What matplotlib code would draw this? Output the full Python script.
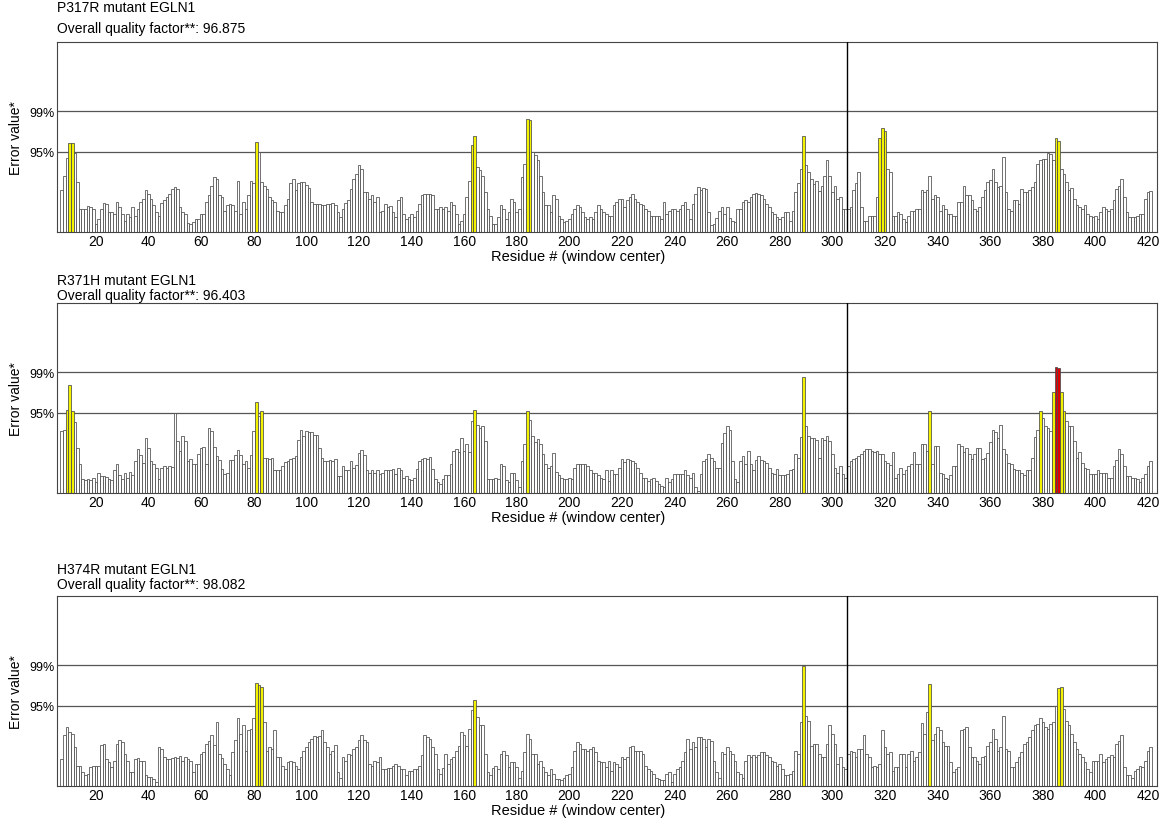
import numpy as np
import matplotlib
matplotlib.use("Agg")
import matplotlib.pyplot as plt

plt.rcParams["font.family"] = ["Liberation Sans", "DejaVu Sans"]

# ERRAT error values per window centre, residues 7..421
first_residue = 7

p317r_errors = [
    5.9, 8.0, 10.5, 12.6,
    12.6, 11.2, 7.1, 3.3, 3.3, 3.3, 3.7, 3.5, 3.3, 1.1,
    1.9, 3.3, 4.1, 4.0, 2.9, 2.8, 2.6, 4.2, 3.5, 2.6,
    1.6, 2.6, 2.1, 3.5, 2.3, 3.3, 4.2, 4.7, 5.9, 5.4,
    4.7, 3.8, 2.8, 2.3, 4.1, 4.5, 5.0, 5.4, 6.1, 6.4,
    6.1, 3.5, 2.8, 2.6, 1.3, 1.1, 1.4, 1.9, 1.8, 2.6,
    2.6, 4.2, 5.2, 6.6, 7.8, 7.6, 5.2, 5.0, 3.0, 3.9,
    4.0, 3.9, 3.0, 7.3, 2.6, 4.2, 3.3, 5.2, 7.3, 6.9,
    12.8, 11.3, 7.1, 6.5, 6.1, 5.0, 4.5, 4.2, 3.0, 2.8,
    2.8, 3.8, 4.7, 6.9, 7.5, 5.9, 6.9, 7.1, 7.1, 6.7,
    6.2, 4.2, 4.0, 4.0, 4.0, 3.8, 3.9, 4.0, 4.0, 4.1,
    3.8, 2.8, 2.1, 3.3, 4.1, 4.5, 6.1, 7.6, 8.2, 9.5,
    9.0, 5.7, 5.7, 4.7, 5.2, 4.2, 5.0, 2.8, 3.0, 4.0,
    3.5, 3.7, 2.8, 2.1, 4.5, 5.0, 2.6, 1.8, 2.1, 2.6,
    2.1, 3.0, 4.0, 5.2, 5.4, 5.4, 5.4, 5.2, 3.3, 3.3,
    3.5, 3.3, 3.5, 3.0, 4.2, 3.8, 2.6, 1.1, 1.6, 2.5,
    5.0, 7.3, 12.3, 13.7, 9.2, 8.8, 8.0, 5.7, 3.3, 2.3,
    1.1, 1.1, 2.1, 3.8, 3.3, 1.9, 2.8, 4.7, 4.2, 2.8,
    3.3, 7.8, 9.7, 16.0, 15.9, 11.3, 11.0, 10.2, 8.0, 5.7,
    3.8, 3.8, 2.8, 5.2, 4.7, 2.3, 1.9, 1.4, 1.6, 1.9,
    2.6, 3.3, 3.8, 3.5, 2.8, 2.1, 1.9, 2.1, 1.9, 2.8,
    3.8, 3.3, 2.8, 2.6, 2.3, 2.3, 3.8, 4.2, 4.7, 4.7,
    3.5, 4.5, 5.0, 5.4, 4.7, 4.2, 4.0, 3.8, 3.3, 3.0,
    2.3, 2.3, 2.3, 2.3, 1.9, 4.2, 2.5, 3.0, 3.3, 3.2,
    3.0, 3.2, 3.8, 4.2, 3.3, 1.8, 4.0, 5.4, 6.4, 6.0,
    6.2, 6.1, 2.8, 1.0, 1.1, 2.0, 3.0, 3.5, 2.5, 3.5,
    2.0, 1.5, 1.4, 3.3, 3.2, 4.2, 4.5, 4.2, 5.0, 5.4,
    5.6, 5.4, 5.2, 4.7, 4.0, 3.5, 2.8, 2.6, 2.1, 1.8,
    2.1, 2.8, 2.8, 1.5, 3.0, 5.7, 7.0, 9.0, 13.6, 9.5,
    8.5, 7.5, 6.8, 7.2, 5.8, 6.5, 8.0, 10.2, 8.0, 5.7,
    6.5, 4.7, 5.0, 3.2, 3.3, 3.2, 3.5, 6.0, 7.0, 8.5,
    3.5, 1.6, 1.6, 2.3, 2.3, 2.3, 5.0, 13.3, 14.8, 14.3,
    9.0, 8.5, 2.3, 2.3, 2.8, 2.6, 1.8, 1.4, 2.3, 3.0,
    3.0, 3.3, 3.3, 5.9, 5.7, 5.9, 7.9, 4.7, 5.2, 5.0,
    3.0, 3.8, 3.3, 2.6, 2.6, 2.3, 2.3, 4.2, 4.2, 6.6,
    5.2, 5.2, 4.5, 3.3, 3.0, 3.5, 5.0, 5.9, 7.1, 7.4,
    9.0, 7.1, 6.4, 6.6, 10.7, 5.7, 3.2, 3.0, 4.5, 4.5,
    4.0, 6.1, 5.7, 5.7, 5.9, 6.4, 7.1, 9.7, 10.2, 10.4,
    10.4, 11.2, 11.1, 10.2, 13.3, 13.0, 9.0, 8.3, 7.1, 5.9,
    6.2, 4.7, 3.8, 3.5, 3.3, 3.8, 2.6, 2.3, 2.1, 2.3,
    1.8, 2.8, 3.5, 3.3, 3.0, 3.3, 4.5, 6.1, 6.5, 7.6,
    5.0, 2.8, 2.1, 2.1, 2.1, 2.3, 2.6, 2.6, 4.7, 5.7,
    5.8,
]

r371h_errors = [
    8.8, 9.0, 11.8, 15.3,
    11.6, 10.1, 6.4, 4.1, 2.0, 1.9, 2.0, 1.8, 2.2, 1.6,
    2.9, 2.4, 2.4, 2.3, 2.0, 1.8, 3.2, 4.1, 2.5, 2.0,
    2.9, 2.2, 3.0, 2.6, 4.6, 6.2, 5.4, 4.3, 7.8, 6.4,
    4.6, 4.1, 3.6, 2.0, 3.6, 3.8, 3.6, 3.8, 3.7, 11.3,
    7.4, 6.0, 8.1, 7.4, 4.6, 4.8, 4.1, 4.1, 5.5, 6.4,
    6.6, 4.1, 9.2, 8.8, 6.6, 5.2, 4.7, 3.4, 2.7, 2.9,
    4.7, 4.7, 5.4, 6.1, 5.4, 4.1, 4.6, 3.6, 5.4, 8.8,
    13.0, 10.9, 11.7, 5.0, 5.0, 4.8, 5.0, 3.2, 3.2, 3.2,
    3.9, 4.4, 4.6, 4.8, 5.0, 5.2, 7.6, 9.0, 8.1, 8.8,
    8.6, 8.6, 8.3, 8.3, 6.4, 5.0, 4.5, 4.5, 4.7, 4.6,
    4.8, 2.4, 2.4, 3.8, 3.2, 3.3, 4.6, 3.6, 4.0, 5.7,
    6.1, 5.4, 3.2, 2.9, 3.2, 2.9, 3.2, 2.7, 2.9, 3.2,
    3.2, 3.2, 3.4, 2.7, 3.6, 3.2, 2.2, 2.4, 2.0, 1.8,
    2.2, 3.4, 4.6, 4.8, 5.0, 4.8, 5.1, 3.4, 2.0, 1.5,
    1.3, 2.0, 2.5, 2.5, 4.1, 6.0, 6.2, 5.8, 7.8, 6.0,
    6.9, 5.8, 10.2, 11.8, 9.7, 9.2, 9.5, 7.4, 2.0, 2.0,
    2.0, 2.2, 2.0, 4.1, 3.8, 1.8, 1.5, 2.9, 2.9, 1.8,
    0.8, 4.5, 7.0, 11.7, 10.4, 8.1, 7.2, 7.7, 7.0, 5.5,
    4.1, 3.6, 3.8, 5.7, 3.0, 2.5, 2.2, 2.0, 2.0, 2.2,
    2.0, 3.6, 4.1, 4.1, 4.1, 4.1, 3.8, 3.2, 2.9, 2.9,
    2.5, 2.2, 2.0, 3.2, 1.7, 3.2, 2.7, 2.7, 3.5, 4.9,
    4.4, 4.9, 4.7, 4.5, 4.2, 3.6, 2.9, 2.2, 2.2, 1.7,
    2.0, 2.2, 1.7, 1.3, 1.0, 0.8, 2.2, 1.5, 2.0, 2.7,
    2.7, 2.7, 2.7, 3.2, 2.5, 2.2, 2.9, 0.8, 0.3, 2.7,
    4.6, 4.8, 5.5, 5.0, 4.5, 3.6, 3.6, 7.1, 8.5, 9.5,
    9.0, 4.6, 2.0, 1.5, 4.6, 5.3, 4.1, 6.0, 4.1, 3.2,
    4.7, 5.2, 4.7, 4.5, 4.2, 3.6, 2.9, 2.7, 3.4, 2.5,
    2.5, 2.5, 2.7, 3.2, 3.4, 5.5, 5.0, 8.0, 16.5, 9.5,
    8.1, 7.8, 7.8, 7.6, 5.0, 7.8, 7.6, 8.1, 7.4, 5.5,
    3.6, 2.9, 3.8, 2.7, 2.2, 3.8, 4.6, 4.8, 5.0, 5.2,
    5.5, 6.0, 6.2, 6.2, 6.0, 5.8, 6.0, 5.5, 5.5, 4.6,
    4.3, 4.0, 5.8, 2.2, 2.7, 3.6, 2.7, 3.2, 3.8, 4.1,
    5.8, 4.1, 4.1, 6.9, 6.9, 6.0, 11.6, 4.1, 6.7, 6.7,
    2.9, 2.7, 2.2, 2.0, 2.5, 3.8, 3.8, 6.9, 6.7, 5.8,
    6.4, 5.5, 4.8, 5.5, 6.4, 6.4, 4.8, 5.0, 5.7, 7.3,
    9.0, 8.6, 7.8, 9.7, 6.2, 5.5, 4.3, 4.1, 3.4, 3.2,
    3.2, 2.9, 2.5, 3.2, 3.2, 5.0, 8.0, 9.0, 11.6, 10.7,
    9.5, 9.2, 8.8, 14.4, 17.9, 17.7, 14.4, 11.6, 10.2, 9.5,
    9.5, 7.4, 5.0, 5.8, 4.3, 3.6, 3.4, 2.7, 2.7, 2.7,
    3.2, 2.9, 2.9, 2.9, 2.2, 2.2, 3.8, 4.7, 6.2, 5.5,
    3.8, 2.4, 2.4, 2.2, 2.2, 2.0, 1.5, 2.2, 2.7, 3.8,
    4.5,
]

h374r_errors = [
    3.9, 7.2, 8.4, 7.7,
    7.4, 5.5, 2.9, 2.9, 2.0, 1.5, 1.7, 2.7, 2.9, 2.9,
    2.9, 5.8, 6.0, 3.9, 3.4, 2.7, 3.6, 6.0, 6.5, 6.2,
    4.6, 3.6, 2.0, 2.0, 3.9, 4.0, 3.6, 3.6, 1.5, 1.3,
    1.3, 1.0, 0.5, 5.5, 5.3, 4.1, 3.9, 3.9, 4.0, 4.1,
    4.0, 4.2, 3.6, 4.1, 3.9, 3.6, 2.0, 3.1, 3.1, 4.6,
    4.8, 6.0, 6.4, 7.2, 5.8, 9.1, 4.6, 4.0, 3.1, 2.4,
    1.5, 4.8, 6.5, 9.6, 7.4, 8.6, 5.0, 7.9, 8.1, 9.6,
    14.6, 14.4, 14.1, 9.1, 5.0, 5.5, 5.2, 7.9, 4.1, 4.1,
    2.9, 2.4, 3.4, 3.6, 3.4, 2.9, 2.4, 4.1, 5.0, 5.5,
    6.2, 6.7, 7.1, 6.9, 7.1, 7.9, 6.2, 5.5, 4.6, 5.0,
    5.8, 2.0, 1.2, 4.1, 3.6, 4.6, 4.4, 5.3, 5.5, 6.5,
    7.2, 6.5, 6.2, 3.1, 2.9, 3.6, 3.4, 4.1, 2.4, 2.4,
    2.6, 2.6, 2.9, 3.1, 2.9, 2.4, 2.4, 1.5, 2.2, 2.2,
    2.4, 2.4, 2.9, 4.4, 7.2, 6.9, 6.7, 5.5, 4.6, 2.4,
    1.7, 2.6, 4.6, 3.1, 3.9, 4.1, 5.0, 5.7, 7.7, 7.2,
    5.7, 8.1, 10.8, 12.2, 9.8, 8.6, 8.6, 4.6, 2.0, 1.5,
    2.6, 2.9, 2.4, 4.6, 5.0, 4.4, 2.7, 3.4, 3.4, 2.7,
    1.2, 2.2, 4.8, 7.4, 6.7, 4.6, 4.6, 3.1, 3.6, 2.7,
    2.0, 1.5, 2.4, 1.7, 1.0, 1.0, 0.8, 1.2, 1.5, 1.7,
    2.7, 5.0, 6.2, 6.0, 5.3, 5.3, 5.0, 5.3, 5.5, 4.8,
    3.6, 3.4, 3.4, 2.7, 3.6, 2.2, 3.4, 3.1, 2.7, 4.1,
    3.9, 4.1, 5.5, 5.7, 5.0, 5.0, 5.0, 4.6, 2.9, 2.4,
    2.2, 1.7, 1.2, 1.0, 0.8, 0.8, 1.7, 2.0, 0.5, 1.7,
    2.4, 2.7, 3.6, 4.8, 6.7, 5.2, 6.2, 5.5, 7.0, 7.0,
    6.7, 5.5, 6.7, 6.4, 3.6, 2.0, 1.2, 4.8, 4.6, 5.5,
    5.0, 4.6, 3.6, 2.0, 1.7, 1.2, 3.6, 4.4, 4.1, 4.4,
    4.1, 4.4, 4.8, 4.8, 4.4, 4.1, 3.6, 3.4, 2.9, 3.1,
    2.4, 1.5, 1.5, 1.7, 2.2, 5.0, 4.6, 9.1, 17.0, 10.0,
    9.3, 5.7, 6.0, 6.0, 4.6, 4.1, 4.1, 6.0, 8.6, 7.4,
    6.0, 3.1, 4.1, 2.7, 2.4, 4.6, 5.0, 4.8, 4.1, 5.3,
    5.3, 7.2, 4.6, 4.1, 2.7, 2.9, 2.7, 3.1, 7.9, 5.5,
    4.6, 4.8, 2.2, 2.7, 2.7, 4.6, 4.6, 2.7, 4.6, 5.0,
    3.6, 4.1, 4.8, 8.9, 7.4, 10.5, 14.5, 6.5, 7.4, 8.4,
    7.9, 6.2, 5.7, 5.7, 3.4, 2.0, 2.4, 2.7, 7.9, 8.1,
    8.4, 5.5, 4.1, 4.1, 3.6, 3.1, 4.1, 4.3, 5.7, 6.2,
    8.1, 6.7, 5.0, 5.5, 10.0, 5.2, 5.0, 2.7, 2.7, 3.4,
    4.1, 4.8, 6.0, 6.2, 6.9, 7.9, 8.6, 8.8, 9.6, 9.1,
    8.4, 8.1, 8.8, 9.1, 11.3, 13.9, 14.1, 11.0, 9.3, 8.6,
    7.4, 6.2, 5.2, 4.6, 4.1, 3.4, 2.4, 2.0, 3.6, 3.6,
    3.6, 4.6, 3.4, 3.9, 4.1, 4.4, 4.1, 6.0, 6.4, 7.2,
    2.7, 1.5, 1.5, 1.2, 2.2, 2.4, 2.9, 2.7, 3.6, 5.0,
    5.5,
]

panel_titles = ["P317R mutant EGLN1", "R371H mutant EGLN1", "H374R mutant EGLN1"]
quality_factors = ["96.875", "96.403", "98.082"]

# ERRAT rejection limits
limit_95 = 11.38
limit_99 = 17.19
x_ticks = list(range(20, 421, 20))

W, H = 1168, 820
fig = plt.figure(figsize=(W / 100, H / 100), dpi=100)

# axes boxes in pixels: (top, bottom)
boxes = [(43, 233), (304, 494), (597, 787)]
left_px, right_px = 57, 1157
# header line offsets above each box (pixels)
title_offsets = [(35, 14), (23, 8), (27, 12)]

series = [p317r_errors, r371h_errors, h374r_errors]

for i, errors in enumerate(series):
    errors = np.asarray(errors)
    residues = np.arange(first_residue, first_residue + len(errors))
    top, bottom = boxes[i]
    box_h = bottom - top
    ax = fig.add_axes([left_px / W, 1 - bottom / H,
                       (right_px - left_px) / W, box_h / H])

    colors = np.where(errors > limit_99, "#e00000",
                      np.where(errors > limit_95, "#f2f200", "white"))
    ax.bar(residues, errors, width=1.0, color=colors,
           edgecolor="#4a4a4a", linewidth=0.55, zorder=2)

    for lim in (limit_95, limit_99):
        ax.axhline(lim, color="#555555", lw=0.9, zorder=1)
    ax.axvline(305.5, color="black", lw=1.0, zorder=3)

    ax.set_xlim(5.2, 423.4)
    ax.set_ylim(0, 27)
    ax.set_xticks(x_ticks)
    ax.set_xticklabels([str(t) for t in x_ticks], fontsize=10)
    ax.set_yticks([limit_95, limit_99])
    ax.set_yticklabels(["95%", "99%"], fontsize=9)
    ax.tick_params(length=0, pad=2)
    ax.tick_params(axis="x", pad=1.5)
    for sp in ax.spines.values():
        sp.set_color("#444444")
        sp.set_linewidth(0.8)

    ax.set_xlabel("Residue # (window center)", fontsize=10.5, va="center")
    ax.xaxis.set_label_coords((578 - left_px) / (right_px - left_px), -24 / box_h)
    ax.set_ylabel("Error value*", fontsize=10, labelpad=4)

    off1, off2 = title_offsets[i]
    fig.text(left_px / W, 1 - (top - off1) / H, panel_titles[i],
             fontsize=10, ha="left", va="center")
    fig.text(left_px / W, 1 - (top - off2) / H,
             f"Overall quality factor**: {quality_factors[i]}",
             fontsize=10, ha="left", va="center")

fig.savefig("out.png", dpi=100, facecolor="white")
